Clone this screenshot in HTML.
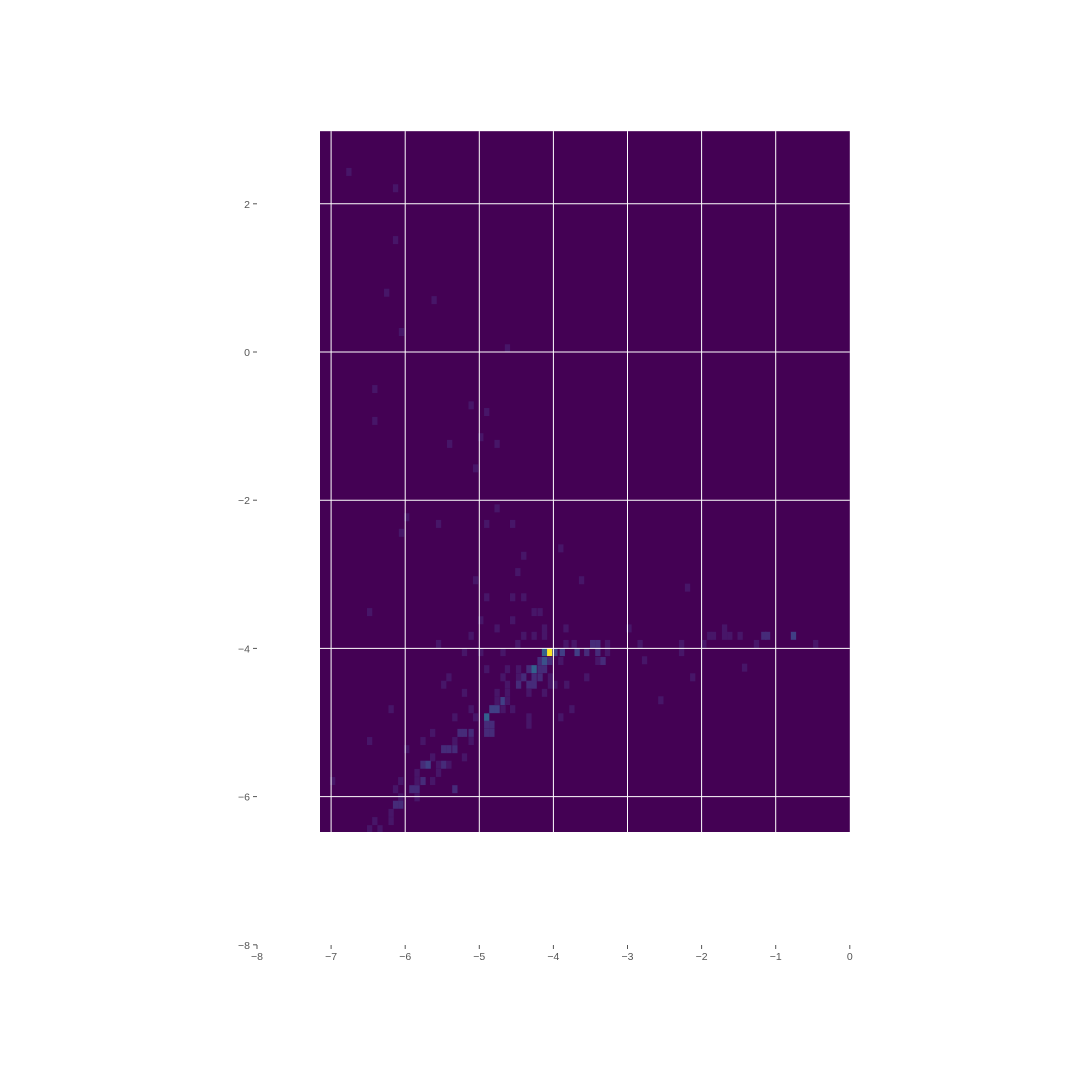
<!DOCTYPE html>
<html><head><meta charset="utf-8"><style>
html,body{margin:0;padding:0;background:#fff}
svg{display:block;font-family:"Liberation Sans","DejaVu Sans",sans-serif}
</style></head><body>
<svg id="chart" width="1080" height="1080" viewBox="0 0 1080 1080" xmlns="http://www.w3.org/2000/svg">
<defs><clipPath id="pc"><rect x="320" y="131" width="530" height="701"/></clipPath></defs>
<g id="plot" clip-path="url(#pc)"></g>
<g id="axes"></g>
</svg>
<script>
const xTicks=[-8,-7,-6,-5,-4,-3,-2,-1,0];
const yTicks=[-8,-6,-4,-2,0,2];
const gridX=[-7,-6,-5,-4,-3,-2,-1];
const gridY=[-6,-4,-2,0,2];
const cellX=[-6.76,-6.13,-6.13,-6.25,-5.61,-6.05,-4.62,-6.41,-6.41,-5.11,-4.90,-5.40,-4.76,-4.98,-5.05,-4.76,-5.98,-6.05,-5.55,-4.90,-4.55,-3.90,-4.40,-4.48,-5.05,-3.62,-4.90,-4.55,-4.40,-4.26,-4.18,-6.48,-2.19,-4.98,-3.83,-4.76,-4.55,-4.12,-5.11,-4.40,-4.26,-4.12,-5.55,-4.48,-3.83,-3.72,-3.47,-3.40,-3.27,
-5.20,-4.98,-4.68,-4.12,-4.05,-3.98,-3.88,-3.68,-3.55,-3.40,-3.27,
-4.18,-4.12,-4.05,-3.90,-3.40,-3.33,
-4.90,-4.62,-4.47,-4.33,-4.26,-4.18,-4.12,
-5.41,-4.68,-4.47,-4.40,-4.26,-4.18,-4.04,-3.55,
-5.48,-4.62,-4.47,-4.33,-4.26,-4.04,-3.98,-3.82,
-5.20,-4.76,-4.62,-4.33,-4.12,
-4.76,-4.68,-4.62,
-6.19,-5.11,-4.83,-4.76,-4.68,-4.55,-3.75,
-5.33,-5.05,-4.90,-4.33,-3.90,
-4.90,-4.83,-4.33,-4.90,-4.83,-5.63,-5.26,-5.20,-5.11,
-6.48,-5.76,-5.33,-5.11,
-5.98,-5.48,-5.41,-5.33,
-5.63,-5.20,
-5.76,-5.69,-5.55,-5.48,-5.41,
-5.84,-5.55,
-6.98,-6.06,-5.84,-5.76,-5.63,
-6.13,-5.91,-5.84,-5.33,
-6.06,-5.84,
-6.13,-6.06,
-6.19,
-6.41,-6.19,
-6.48,-6.34,
-1.89,-1.84,-1.69,-1.62,-1.48,-1.16,-1.11,-0.76,-0.46,-2.27,-2.27,-1.97,-2.12,-2.55,-1.42,-2.83,-2.77,-2.98,-1.26,-1.69];
const cellY=[2.43,2.21,1.51,0.80,0.70,0.27,0.05,-0.50,-0.93,-0.72,-0.81,-1.24,-1.24,-1.15,-1.57,-2.11,-2.23,-2.44,-2.32,-2.32,-2.32,-2.65,-2.75,-2.97,-3.08,-3.08,-3.31,-3.31,-3.31,-3.51,-3.51,-3.51,-3.18,-3.62,-3.73,-3.73,-3.62,-3.73,-3.83,-3.83,-3.83,-3.83,-3.94,-3.94,-3.94,-3.94,-3.94,-3.94,-3.94,
-4.05,-4.05,-4.05,-4.05,-4.05,-4.05,-4.05,-4.05,-4.05,-4.05,-4.05,
-4.17,-4.17,-4.17,-4.17,-4.17,-4.17,
-4.28,-4.28,-4.28,-4.28,-4.28,-4.28,-4.28,
-4.39,-4.39,-4.39,-4.39,-4.39,-4.39,-4.39,-4.39,
-4.49,-4.49,-4.49,-4.49,-4.49,-4.49,-4.49,-4.49,
-4.60,-4.60,-4.60,-4.60,-4.60,
-4.71,-4.71,-4.71,
-4.82,-4.82,-4.82,-4.82,-4.82,-4.82,-4.82,
-4.93,-4.93,-4.93,-4.93,-4.93,
-5.03,-5.03,-5.03,-5.14,-5.14,-5.14,-5.14,-5.14,-5.14,
-5.25,-5.25,-5.25,-5.25,
-5.36,-5.36,-5.36,-5.36,
-5.47,-5.47,
-5.57,-5.57,-5.57,-5.57,-5.57,
-5.68,-5.68,
-5.79,-5.79,-5.79,-5.79,-5.79,
-5.90,-5.90,-5.90,-5.90,
-6.01,-6.01,
-6.11,-6.11,
-6.22,
-6.33,-6.33,
-6.44,-6.44,
-3.83,-3.83,-3.83,-3.83,-3.83,-3.83,-3.83,-3.83,-3.94,-3.94,-4.05,-3.94,-4.39,-4.70,-4.26,-3.94,-4.16,-3.73,-3.94,-3.73];
const cellCount=[1,1,1,1,1,1,1,1,1,1,1,1,1,1,1,1,1,1,1,1,1,1,1,1,1,1,1,1,1,1,1,1,1,1,1,1,1,1,1,1,1,1,1,1,1,1,2,2,1,
1,1,1,5,16,3,3,3,2,2,1,
2,4,2,1,1,2,
1,1,1,2,5,2,2,
1,1,1,2,2,2,1,1,
1,1,2,2,2,1,1,1,
1,1,1,1,1,
1,3,1,
1,1,3,3,1,1,1,
1,1,5,1,1,
2,2,1,2,2,1,2,2,2,
1,1,1,1,
1,2,2,2,
1,1,
2,3,1,2,1,
1,1,
1,1,1,2,1,
1,2,2,2,
1,1,
2,2,
1,
1,1,
1,1,
1,1,1,1,1,2,2,3,1,1,1,1,1,1,1,1,1,1,1,1];

const X0=257,PX=74.1,Y0=352;
const sx=v=>X0+(v+8)*PX;
const sy=v=>Y0-v*PX;
const xmin=-7.15,xmax=0,ymin=-6.48,ymax=2.98;
const dxPx=5.3,dyPx=8;
const NS="http://www.w3.org/2000/svg";
const vir=[[68,1,84],[72,35,116],[64,67,135],[52,94,141],[41,120,142],[32,144,140],[34,167,132],[68,190,112],[121,209,81],[189,222,38],[253,231,37]];
function viridis(t){t=Math.max(0,Math.min(1,t));const f=t*(vir.length-1),i=Math.min(Math.floor(f),vir.length-2),r=f-i;
const c=vir[i].map((v,k)=>Math.round(v+(vir[i+1][k]-v)*r));return `rgb(${c[0]},${c[1]},${c[2]})`;}
function mk(tag,at,parent){const e=document.createElementNS(NS,tag);for(const k in at)e.setAttribute(k,at[k]);parent.appendChild(e);return e;}
const plot=document.getElementById('plot'),axes=document.getElementById('axes');
const bg=mk('rect',{x:sx(xmin),y:sy(ymax),width:sx(xmax)-sx(xmin),height:sy(ymin)-sy(ymax),fill:viridis(0)},plot);


const maxC=Math.max(...cellCount);
for(let i=0;i<cellX.length;i++){
 const r=mk('rect',{x:sx(cellX[i])-dxPx/2,y:sy(cellY[i])-dyPx/2,width:dxPx,height:dyPx,fill:viridis(cellCount[i]/maxC)},plot);
 
 
}
for(const g of gridX){const l=mk('line',{x1:sx(g),x2:sx(g),y1:sy(ymax),y2:sy(ymin),stroke:'#fff','stroke-width':1},plot);
 
 }
for(const g of gridY){const l=mk('line',{x1:sx(xmin),x2:sx(xmax),y1:sy(g),y2:sy(g),stroke:'#fff','stroke-width':1},plot);
 
 }
for(const t of xTicks){
 const tk=mk('line',{x1:sx(t),x2:sx(t),y1:945,y2:949,stroke:'#555','stroke-width':1},axes);
 
 
 const tx=mk('text',{x:sx(t),y:960,'font-size':10.5,fill:'#555','text-anchor':'middle'},axes);
 tx.textContent=t<0?'\u2212'+Math.abs(t):String(t);
 
 
}
for(const t of yTicks){
 const tk=mk('line',{x1:253,x2:257,y1:sy(t),y2:sy(t),stroke:'#555','stroke-width':1},axes);
 
 
 const tx=mk('text',{x:250,y:sy(t)+4,'font-size':10.5,fill:'#555','text-anchor':'end'},axes);
 tx.textContent=t<0?'\u2212'+Math.abs(t):String(t);
 
 
}
</script>
</body></html>
